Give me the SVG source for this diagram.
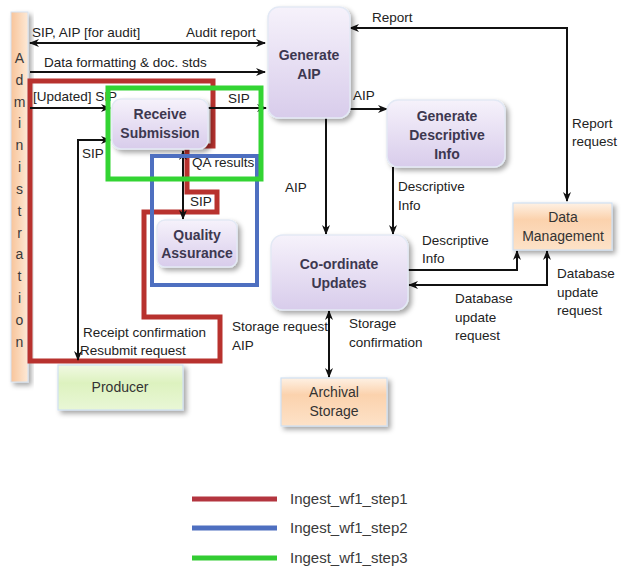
<svg xmlns="http://www.w3.org/2000/svg" width="621" height="572" viewBox="0 0 621 572">
  <defs>
    <linearGradient id="lav" x1="0" y1="0" x2="0" y2="1">
      <stop offset="0" stop-color="#f6f2fb"/>
      <stop offset="1" stop-color="#d8cceb"/>
    </linearGradient>
    <linearGradient id="peach" x1="0" y1="0" x2="0" y2="1">
      <stop offset="0" stop-color="#fef1e4"/>
      <stop offset="0.35" stop-color="#fbd2ad"/>
      <stop offset="1" stop-color="#fde2c8"/>
    </linearGradient>
    <linearGradient id="lime" x1="0" y1="0" x2="0" y2="1">
      <stop offset="0" stop-color="#f1f9e3"/>
      <stop offset="0.4" stop-color="#ddf2bf"/>
      <stop offset="1" stop-color="#e9f7d6"/>
    </linearGradient>
    <linearGradient id="bar" x1="0" y1="0" x2="1" y2="0">
      <stop offset="0" stop-color="#f8c49a"/>
      <stop offset="1" stop-color="#fde9d6"/>
    </linearGradient>
    <filter id="shadow" x="-20%" y="-20%" width="150%" height="150%">
      <feDropShadow dx="3" dy="3" stdDeviation="2.5" flood-color="#000" flood-opacity="0.35"/>
    </filter>
    <marker id="arrow" viewBox="0 0 10 10" refX="9" refY="5" markerWidth="10" markerHeight="10" markerUnits="userSpaceOnUse" orient="auto-start-reverse">
      <path d="M0,1 L10,5 L0,9 L3,5 z" fill="#111"/>
    </marker>
    <style>
      .lbl { font-family: "Liberation Sans", Arial, sans-serif; font-size: 13.5px; fill: #222; }
      .node-text { font-family: "Liberation Sans", Arial, sans-serif; font-size: 14px; font-weight: bold; fill: #3d3850; text-anchor: middle; }
      .box-text { font-family: "Liberation Sans", Arial, sans-serif; font-size: 14px; fill: #333; text-anchor: middle; }
      .letter { font-family: "Liberation Sans", Arial, sans-serif; font-size: 14px; fill: #3a3a3a; text-anchor: middle; }
      .legend { font-family: "Liberation Sans", Arial, sans-serif; font-size: 15px; fill: #3a3a3a; }
      .proc { fill: url(#lav); stroke: #e3e9f5; stroke-width: 1.5; filter: url(#shadow); }
      .store { fill: url(#peach); stroke: #cfe0f2; stroke-width: 1.2; filter: url(#shadow); }
      .ext { fill: url(#lime); stroke: #cfe0f2; stroke-width: 1.2; filter: url(#shadow); }
      .conn { fill: none; stroke: #111; stroke-width: 2; }
      .step1 { fill: none; stroke: #b8322e; stroke-width: 5; }
      .step2 { fill: none; stroke: #4e6fc0; stroke-width: 4; }
      .step3 { fill: none; stroke: #33d433; stroke-width: 5; }
    </style>
  </defs>

  <rect width="621" height="572" fill="#ffffff"/>

  <!-- Administration side bar -->
  <g id="administration">
    <rect x="11" y="12" width="17" height="370" fill="url(#bar)" stroke="#d6e2ef" stroke-width="1" filter="url(#shadow)"/>
    <text class="letter" x="19.5" y="63">A</text>
    <text class="letter" x="19.5" y="85">d</text>
    <text class="letter" x="19.5" y="107">m</text>
    <text class="letter" x="19.5" y="128">i</text>
    <text class="letter" x="19.5" y="150">n</text>
    <text class="letter" x="19.5" y="172">i</text>
    <text class="letter" x="19.5" y="194">s</text>
    <text class="letter" x="19.5" y="216">t</text>
    <text class="letter" x="19.5" y="238">r</text>
    <text class="letter" x="19.5" y="259">a</text>
    <text class="letter" x="19.5" y="281">t</text>
    <text class="letter" x="19.5" y="303">i</text>
    <text class="letter" x="19.5" y="325">o</text>
    <text class="letter" x="19.5" y="347">n</text>
  </g>

  <!-- Workflow step 1 outline -->
  <path class="step1" d="M30,81 H213 V146 H187 V192 H217 V212 H144 V317 H220 V361 H30 Z"/>

  <!-- Connectors and their labels -->
  <g id="connectors">
    <path class="conn" d="M30,43 H265" marker-start="url(#arrow)" marker-end="url(#arrow)"/>
    <path class="conn" d="M30,72 H265" marker-end="url(#arrow)"/>
    <path class="conn" d="M30,108 H110" marker-end="url(#arrow)"/>
    <path class="conn" d="M208,108 H266" marker-end="url(#arrow)"/>
    <path class="conn" d="M78,360 V140 H110" marker-start="url(#arrow)" marker-end="url(#arrow)"/>
    <path class="conn" d="M183,151 V219" marker-start="url(#arrow)" marker-end="url(#arrow)"/>
    <path class="conn" d="M350,109 H387" marker-end="url(#arrow)"/>
    <path class="conn" d="M326,118 V234" marker-end="url(#arrow)"/>
    <path class="conn" d="M393,167 V234" marker-end="url(#arrow)"/>
    <path class="conn" d="M567,201 V28 H350" marker-start="url(#arrow)" marker-end="url(#arrow)"/>
    <path class="conn" d="M408,270 H517 V251" marker-end="url(#arrow)"/>
    <path class="conn" d="M547,251 V285 H409" marker-start="url(#arrow)" marker-end="url(#arrow)"/>
    <path class="conn" d="M329,311 V377" marker-start="url(#arrow)" marker-end="url(#arrow)"/>

    <text class="lbl" x="32" y="37">SIP, AIP [for audit]</text>
    <text class="lbl" x="186" y="37">Audit report</text>
    <text class="lbl" x="44" y="67">Data formatting &amp; doc. stds</text>
    <text class="lbl" x="33" y="101">[Updated] SIP</text>
    <text class="lbl" x="228" y="103">SIP</text>
    <text class="lbl" x="82" y="158">SIP</text>
    <text class="lbl" x="192" y="167">QA results</text>
    <text class="lbl" x="190" y="206">SIP</text>
    <text class="lbl" x="83" y="337">Receipt confirmation</text>
    <text class="lbl" x="80" y="355">Resubmit request</text>
    <text class="lbl" x="232" y="331">Storage request</text>
    <text class="lbl" x="232" y="350">AIP</text>
    <text class="lbl" x="349" y="328">Storage</text>
    <text class="lbl" x="349" y="347">confirmation</text>
    <text class="lbl" x="353" y="100">AIP</text>
    <text class="lbl" x="285" y="192">AIP</text>
    <text class="lbl" x="398" y="191">Descriptive</text>
    <text class="lbl" x="398" y="210">Info</text>
    <text class="lbl" x="372" y="22">Report</text>
    <text class="lbl" x="572" y="128">Report</text>
    <text class="lbl" x="572" y="146">request</text>
    <text class="lbl" x="422" y="245">Descriptive</text>
    <text class="lbl" x="422" y="263">Info</text>
    <text class="lbl" x="557" y="278">Database</text>
    <text class="lbl" x="557" y="297">update</text>
    <text class="lbl" x="557" y="315">request</text>
    <text class="lbl" x="455" y="303">Database</text>
    <text class="lbl" x="455" y="322">update</text>
    <text class="lbl" x="455" y="340">request</text>
  </g>

  <!-- Nodes -->
  <g id="generate-aip">
    <rect class="proc" x="268" y="7" width="82" height="111" rx="11"/>
    <text class="node-text" x="309" y="60">Generate</text>
    <text class="node-text" x="309" y="79">AIP</text>
  </g>
  <g id="receive-submission">
    <rect class="proc" x="112" y="99" width="96" height="50" rx="9"/>
    <text class="node-text" x="160" y="119">Receive</text>
    <text class="node-text" x="160" y="138">Submission</text>
  </g>
  <g id="generate-descriptive-info">
    <rect class="proc" x="387" y="100" width="118" height="67" rx="11"/>
    <text class="node-text" x="447" y="121">Generate</text>
    <text class="node-text" x="447" y="140">Descriptive</text>
    <text class="node-text" x="447" y="159">Info</text>
  </g>
  <g id="quality-assurance">
    <rect class="proc" x="157" y="220" width="80" height="47" rx="8"/>
    <text class="node-text" x="197" y="240">Quality</text>
    <text class="node-text" x="197" y="258">Assurance</text>
  </g>
  <g id="coordinate-updates">
    <rect class="proc" x="271" y="235" width="137" height="75" rx="12"/>
    <text class="node-text" x="339" y="269">Co-ordinate</text>
    <text class="node-text" x="339" y="288">Updates</text>
  </g>
  <g id="data-management">
    <rect class="store" x="513" y="203" width="99" height="47"/>
    <text class="box-text" x="563" y="222">Data</text>
    <text class="box-text" x="563" y="241">Management</text>
  </g>
  <g id="producer">
    <rect class="ext" x="58" y="365" width="125" height="45"/>
    <text class="box-text" x="120" y="392">Producer</text>
  </g>
  <g id="archival-storage">
    <rect class="store" x="281" y="378" width="106" height="48"/>
    <text class="box-text" x="334" y="397">Archival</text>
    <text class="box-text" x="334" y="416">Storage</text>
  </g>

  <!-- Workflow step 2 and 3 outlines -->
  <rect class="step2" x="152" y="156" width="105" height="129"/>
  <rect class="step3" x="108" y="88" width="153" height="91"/>

  <!-- Legend -->
  <g id="legend">
    <line x1="192" y1="499" x2="277" y2="499" stroke="#b3353f" stroke-width="5"/>
    <line x1="192" y1="528" x2="277" y2="528" stroke="#4e6fc0" stroke-width="5"/>
    <line x1="192" y1="558" x2="277" y2="558" stroke="#33cc33" stroke-width="5"/>
    <text class="legend" x="290" y="504">Ingest_wf1_step1</text>
    <text class="legend" x="290" y="533">Ingest_wf1_step2</text>
    <text class="legend" x="290" y="563">Ingest_wf1_step3</text>
  </g>
</svg>
